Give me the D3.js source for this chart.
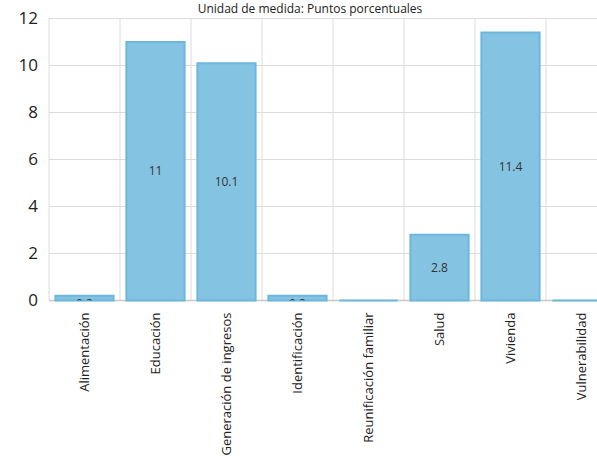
<!DOCTYPE html>
<html><head><meta charset="utf-8">
<script src="https://cdn.jsdelivr.net/npm/d3@7"></script>
<style>body{margin:0;background:#fff;overflow:hidden}svg{display:block}text{font-family:"Open Sans","Noto Sans",sans-serif}</style>
</head><body>
<script>
const title = "Unidad de medida: Puntos porcentuales";
const categories = ["Alimentación","Educación","Generación de ingresos","Identificación","Reunificación familiar","Salud","Vivienda","Vulnerabilidad"];
const values = [0.2, 11, 10.1, 0.2, 0, 2.8, 11.4, 0];
const yTicks = [0, 2, 4, 6, 8, 10, 12];

const W = 597, H = 464;
const m = {left: 49, top: 18.5, bottom: 163.5};
const plotW = 568;
const svg = d3.select("body").append("svg").attr("width", W).attr("height", H);

const x = d3.scaleBand().domain(categories).range([m.left, m.left + plotW]).paddingInner(0.18).paddingOuter(0.09);
const xg = d3.scaleBand().domain(categories).range([m.left, m.left + plotW]);
const y = d3.scaleLinear().domain([0, 12]).range([H - m.bottom, m.top]);

svg.append("defs").append("clipPath").attr("id", "clip")
  .append("rect").attr("x", m.left).attr("y", m.top).attr("width", plotW).attr("height", y(0) - m.top);

// grid
const g = svg.append("g");
g.selectAll(".hg").data(yTicks).join("line")
  .attr("x1", m.left).attr("x2", m.left + plotW).attr("y1", d => y(d)).attr("y2", d => y(d))
  .attr("stroke", "#dcdcdc").attr("stroke-width", 1);
const vlines = categories.map(c => xg(c)).concat([m.left + plotW]);
g.selectAll(".vg").data(vlines).join("line")
  .attr("x1", d => d).attr("x2", d => d).attr("y1", m.top).attr("y2", y(0))
  .attr("stroke", "#dcdcdc").attr("stroke-width", 1);
g.append("line").attr("x1", m.left).attr("x2", m.left + plotW).attr("y1", y(0)).attr("y2", y(0))
  .attr("stroke", "#c8c8c8").attr("stroke-width", 1.5);

// y labels
svg.selectAll(".yl").data(yTicks).join("text")
  .attr("x", 38).attr("y", d => y(d)).attr("dy", "0.35em").attr("text-anchor", "end")
  .attr("font-size", 17).attr("fill", "#222").text(d => d);

// bars
const data = categories.map((c, i) => ({c, v: values[i]}));
svg.selectAll(".bar").data(data).join("path")
  .attr("d", d => {
    const x0 = x(d.c), x1 = x(d.c) + x.bandwidth(), yt = y(d.v), yb = y(0);
    return `M${x0},${yb}V${yt}H${x1}V${yb}Z`;
  })
  .attr("fill", "#85c3e2").attr("stroke", "#6bb7dd").attr("stroke-width", 2);

// bar value labels (small bars: label sits just below the baseline and is clipped, as in the reference)
svg.append("g").attr("clip-path", "url(#clip)").selectAll("text").data(data.filter(d => d.v > 0)).join("text")
  .attr("x", d => x(d.c) + x.bandwidth() / 2)
  .attr("y", d => {
    const mid = (y(d.v) + y(0)) / 2;
    return (y(0) - y(d.v)) < 12 ? y(0) + 3 : mid;
  })
  .attr("dy", "0.35em").attr("text-anchor", "middle").attr("font-size", 12).attr("fill", "#333")
  .text(d => d.v);

// x labels
svg.selectAll(".xl").data(categories).join("text")
  .attr("transform", d => `translate(${xg(d) + xg.bandwidth() / 2 + 4.5},${y(0) + 12}) rotate(-90)`)
  .attr("text-anchor", "end").attr("font-size", 13).attr("fill", "#222").text(d => d);

// title
svg.append("text").attr("x", 310).attr("y", 13).attr("text-anchor", "middle")
  .attr("font-size", 12).attr("fill", "#222").text(title);
</script>
</body></html>
